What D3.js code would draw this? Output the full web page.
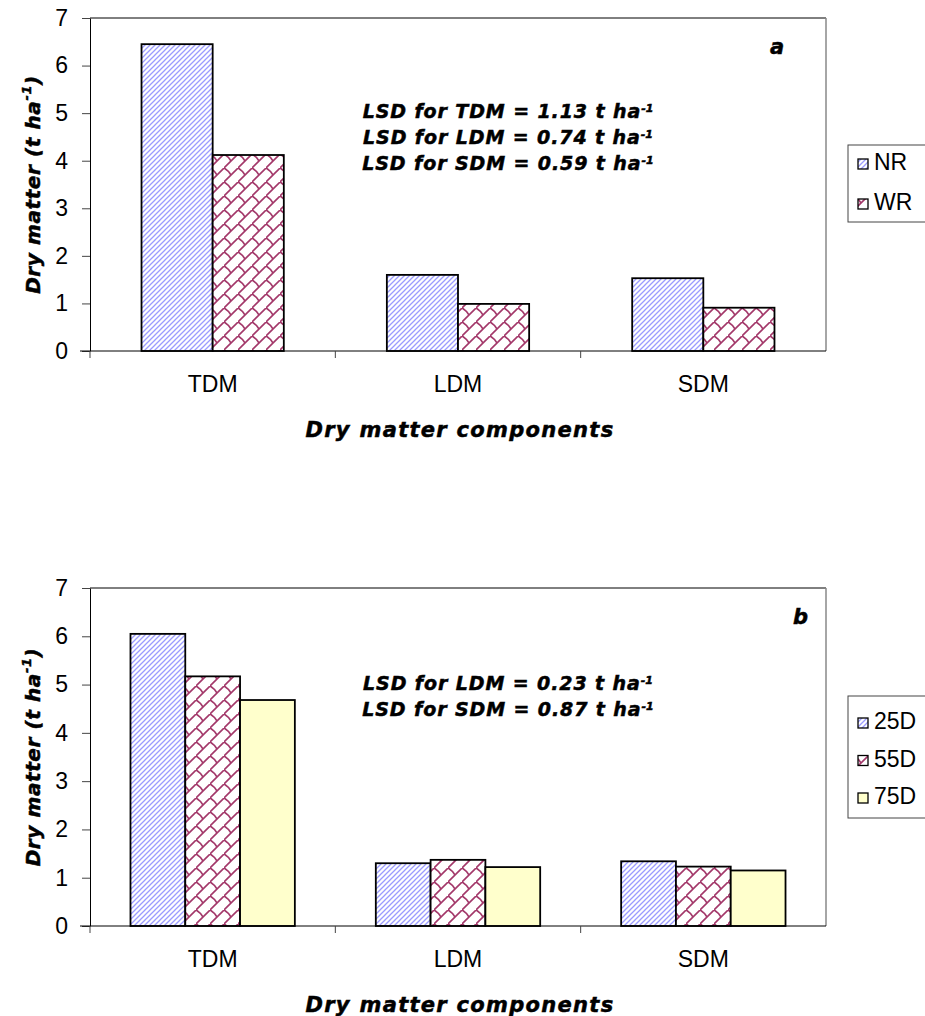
<!DOCTYPE html>
<html>
<head>
<meta charset="utf-8">
<script src="https://cdn.jsdelivr.net/npm/d3@7"></script>
<style>
  body { margin: 0; background: #fff; }
  text { font-family: "Liberation Sans", Arial, sans-serif; fill: #000; }
  .tick text { font-size: 23px; font-family: "Liberation Sans", Arial, sans-serif; }
  .title { font-family: "DejaVu Sans", sans-serif; font-weight: bold; font-style: italic; font-size: 21px; letter-spacing: 1.3px; stroke: #000; stroke-width: 0.5px; }
  .lsd { font-family: "DejaVu Sans", sans-serif; font-weight: bold; font-style: italic; font-size: 19px; letter-spacing: 0.9px; stroke: #000; stroke-width: 0.5px; }
</style>
</head>
<body>
<svg id="chart" width="925" height="1016"></svg>
<script>
// Categories and values (t/ha)
var categories = ["TDM", "LDM", "SDM"];
var yTicks = [0, 1, 2, 3, 4, 5, 6, 7];

// Panel a: residue treatments
var seriesA = ["NR", "WR"];
var valuesNR = [6.45, 1.60, 1.53];
var valuesWR = [4.12, 0.99, 0.91];
var lsdA = [["TDM", "1.13"], ["LDM", "0.74"], ["SDM", "0.59"]];

// Panel b: sowing dates
var seriesB = ["25D", "55D", "75D"];
var values25D = [6.05, 1.30, 1.34];
var values55D = [5.17, 1.37, 1.23];
var values75D = [4.68, 1.22, 1.15];
var lsdB = [["LDM", "0.23"], ["SDM", "0.87"]];

var svg = d3.select("#chart");
var defs = svg.append("defs");

// Blue diagonal hatch
var p1 = defs.append("pattern")
    .attr("id", "hatchBlue")
    .attr("patternUnits", "userSpaceOnUse")
    .attr("width", 5).attr("height", 5);
p1.append("rect").attr("width", 5).attr("height", 5).attr("fill", "#fff");
p1.append("path")
    .attr("d", "M-1,6 L6,-1 M-1,1 L1,-1 M4,6 L6,4")
    .attr("stroke", "#9b9bff")
    .attr("stroke-width", 1.3);

// Maroon shingle pattern
var p2 = defs.append("pattern")
    .attr("id", "shingle")
    .attr("patternUnits", "userSpaceOnUse")
    .attr("width", 14).attr("height", 14);
p2.append("rect").attr("width", 14).attr("height", 14).attr("fill", "#fff");
p2.append("path")
    .attr("d", "M-1,15 L15,-1 M0,0 Q4,2 7,7")
    .attr("fill", "none")
    .attr("stroke", "#a3386a")
    .attr("stroke-width", 1.6);

var fills = {
  "NR": "url(#hatchBlue)", "WR": "url(#shingle)",
  "25D": "url(#hatchBlue)", "55D": "url(#shingle)", "75D": "#ffffcc"
};

function drawPanel(opt) {
  var left = 90, right = 826;
  var y = d3.scaleLinear().domain([0, 7]).range([opt.bottom, opt.top]);
  var x = d3.scaleBand().domain(categories).range([left, right]);
  var groupW = x.bandwidth() * opt.groupFrac;
  var xs = d3.scaleBand().domain(opt.series).range([0, groupW]);

  var g = svg.append("g");

  // plot area frame (top and right)
  g.append("line")
    .attr("x1", left).attr("x2", right).attr("y1", opt.top).attr("y2", opt.top)
    .attr("stroke", "#000").attr("stroke-width", 1);
  g.append("line")
    .attr("x1", right).attr("x2", right).attr("y1", opt.top).attr("y2", opt.bottom)
    .attr("stroke", "#888").attr("stroke-width", 1.5);

  // bars
  opt.series.forEach(function(s, si) {
    g.selectAll(".bar" + si)
      .data(opt.values[si])
      .enter().append("rect")
        .attr("x", function(d, i) { return x(categories[i]) + (x.bandwidth() - groupW) / 2 + xs(s); })
        .attr("y", function(d) { return y(d); })
        .attr("width", xs.bandwidth())
        .attr("height", function(d) { return y(0) - y(d); })
        .attr("fill", fills[s])
        .attr("stroke", "#000")
        .attr("stroke-width", 1.8);
  });

  // y axis
  var yAxis = d3.axisLeft(y).tickValues(yTicks).tickFormat(d3.format("d"))
    .tickSize(8).tickSizeOuter(0).tickPadding(14);
  var ya = g.append("g")
    .attr("transform", "translate(" + left + ",0)")
    .call(yAxis);
  ya.selectAll("line").attr("stroke", "#444");
  ya.select(".domain").attr("stroke", "#000");
  ya.selectAll("text").attr("fill", "#000");

  // x axis: line + ticks at category boundaries
  var xa = g.append("g");
  xa.append("line")
    .attr("x1", left - 10).attr("x2", right)
    .attr("y1", opt.bottom).attr("y2", opt.bottom)
    .attr("stroke", "#000");
  xa.selectAll(".xtick")
    .data(categories)
    .enter().append("line")
      .attr("x1", function(d) { return x(d); })
      .attr("x2", function(d) { return x(d); })
      .attr("y1", opt.bottom).attr("y2", opt.bottom + 7)
      .attr("stroke", "#444");
  xa.selectAll(".xlab")
    .data(categories)
    .enter().append("text")
      .attr("x", function(d) { return x(d) + x.bandwidth() / 2; })
      .attr("y", opt.bottom + 41)
      .attr("text-anchor", "middle")
      .style("font-size", "23px")
      .text(function(d) { return d; });

  // axis titles
  g.append("text")
    .attr("class", "title")
    .attr("x", (left + right) / 2 + 2)
    .attr("y", opt.bottom + 86)
    .attr("text-anchor", "middle")
    .text("Dry matter components");

  var yt = g.append("text")
    .attr("class", "title")
    .style("font-size", "20px")
    .style("letter-spacing", "0.6px")
    .attr("transform", "translate(40," + ((opt.top + opt.bottom) / 2) + ") rotate(-90)")
    .attr("text-anchor", "middle");
  yt.append("tspan").text("Dry matter (t ha");
  yt.append("tspan").attr("dy", -9).style("font-size", "13px").text("-1");
  yt.append("tspan").attr("dy", 9).text(")");

  // panel letter
  g.append("text")
    .attr("class", "title")
    .attr("x", opt.letterX).attr("y", opt.top + 36)
    .text(opt.letter);

  // LSD notes
  opt.lsd.forEach(function(d, i) {
    var t = g.append("text")
      .attr("class", "lsd")
      .attr("x", 508).attr("y", opt.lsdY + i * 26)
      .attr("text-anchor", "middle");
    t.append("tspan").text("LSD for " + d[0] + " = " + d[1] + " t ha");
    t.append("tspan").attr("dy", -6).style("font-size", "11px").style("letter-spacing", "0px").text("-1");
  });

  // legend
  var lg = g.append("g");
  lg.append("rect")
    .attr("x", 848).attr("y", opt.legTop)
    .attr("width", 100).attr("height", opt.legH)
    .attr("fill", "#fff").attr("stroke", "#444").attr("stroke-width", 1);
  opt.series.forEach(function(s, i) {
    var sy = opt.legTop + opt.legFirst + i * opt.legStep;
    lg.append("rect")
      .attr("x", 858).attr("y", sy)
      .attr("width", 10).attr("height", 10)
      .attr("fill", fills[s]).attr("stroke", "#000").attr("stroke-width", 1.3);
    lg.append("text")
      .attr("x", 874).attr("y", sy + 11)
      .style("font-size", "23px")
      .text(s);
  });
}

drawPanel({
  top: 18, bottom: 351, groupFrac: 0.58,
  series: seriesA, values: [valuesNR, valuesWR],
  letter: "a", letterX: 770, lsd: lsdA, lsdY: 118,
  legTop: 145, legH: 77, legFirst: 14, legStep: 40
});

drawPanel({
  top: 588, bottom: 926, groupFrac: 0.67,
  series: seriesB, values: [values25D, values55D, values75D],
  letter: "b", letterX: 793, lsd: lsdB, lsdY: 690,
  legTop: 696, legH: 122, legFirst: 22, legStep: 37.5
});
</script>
</body>
</html>
